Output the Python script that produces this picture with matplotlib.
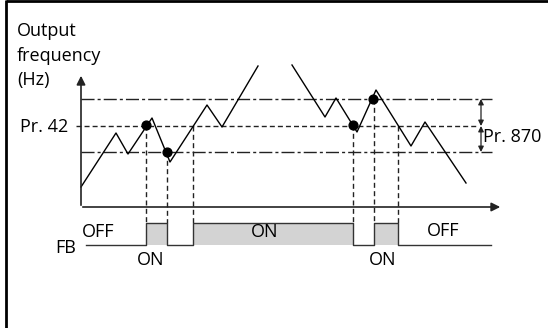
import matplotlib
matplotlib.use("Agg")
from matplotlib import pyplot as plt

plt.rcParams['font.family'] = ['Open Sans', 'DejaVu Sans']

# output frequency curve (x = time, y = frequency, in picture units, y grows downward)
seg1_t = [81, 116, 128, 152, 170, 207, 222, 258]
seg1_f = [187, 133, 154, 118, 162, 105, 127, 66]
seg2_t = [292, 325, 336, 357, 376, 411, 425, 466]
seg2_f = [65, 117, 98, 132, 90, 146, 122, 183]

# detection points
dot_t = [146, 167, 353, 373]
dot_f = [125, 152, 125, 99]

# levels
upper_lvl = 99
pr42_lvl = 126
lower_lvl = 152

# FB signal switching times and states (1 = ON)
fb_t = [86, 146, 167, 193, 353, 374, 398, 491]
fb_state = [0, 1, 0, 1, 0, 1, 0]
fb_low = 245
fb_high = 223

# where each vertical dashed guide starts
guide_top = [125, 152, 126, 125, 99, 126]

fig = plt.figure(figsize=(5.48, 3.28), dpi=100)
ax = fig.add_axes([0, 0, 1, 1])
ax.set_xlim(0, 548)
ax.set_ylim(328, 0)
ax.axis('off')

# frame (top + left only)
ax.plot([6, 548], [1, 1], color='black', lw=2.0, solid_capstyle='butt')
ax.plot([6, 6], [0, 328], color='black', lw=2.0, solid_capstyle='butt')

# axes with arrows
ax.annotate('', xy=(81, 73), xytext=(81, 208),
            arrowprops=dict(arrowstyle='-|>', color='#222222', lw=1.2, mutation_scale=13))
ax.annotate('', xy=(503, 207), xytext=(80, 207),
            arrowprops=dict(arrowstyle='-|>', color='#222222', lw=1.2, mutation_scale=13))

# level lines
dashdot = (9.4, 2.2, 2.2, 2.2)
ax.plot([81, 492], [upper_lvl, upper_lvl], color='#222222', lw=1.0, dashes=dashdot)
ax.plot([76, 476], [pr42_lvl, pr42_lvl], color='#222222', lw=1.0, dashes=(3.6, 2.2))
ax.plot([81, 492], [lower_lvl, lower_lvl], color='#222222', lw=1.0, dashes=dashdot)

# vertical dashed lines at switching instants
for t, top in zip(fb_t[1:-1], guide_top):
    ax.plot([t, t], [top, fb_high], color='#222222', lw=1.0, dashes=(3.6, 2.4))

# frequency curve
ax.plot(seg1_t, seg1_f, color='black', lw=1.0)
ax.plot(seg2_t, seg2_f, color='black', lw=1.0)
ax.scatter(dot_t, dot_f, s=40, color='black', zorder=5)

# Pr. 870 double arrows
for a, b in [(upper_lvl, pr42_lvl), (pr42_lvl, lower_lvl)]:
    ax.annotate('', xy=(481, a), xytext=(481, b),
                arrowprops=dict(arrowstyle='<|-|>', color='#222222', lw=0.9,
                                mutation_scale=8, shrinkA=0, shrinkB=0))

# FB signal
xs, ys = [], []
for i, s in enumerate(fb_state):
    lvl = fb_high if s else fb_low
    xs += [fb_t[i], fb_t[i + 1]]
    ys += [lvl, lvl]
    if s:
        ax.fill_between([fb_t[i], fb_t[i + 1]], fb_low, fb_high, color='#d3d3d3', lw=0)
ax.plot(xs, ys, color='#333333', lw=1.0)

# texts
fs = 13
ax.text(17, 31, 'Output', fontsize=fs, va='center', ha='left')
ax.text(17, 56, 'frequency', fontsize=fs, va='center', ha='left')
ax.text(17, 80, '(Hz)', fontsize=fs, va='center', ha='left')
ax.text(68, 127, 'Pr. 42', fontsize=fs, va='center', ha='right')
ax.text(483, 137, 'Pr. 870', fontsize=fs, va='center', ha='left')
ax.text(76, 248, 'FB', fontsize=fs, va='center', ha='right')
ax.text(82, 232, 'OFF', fontsize=fs, va='center', ha='left')
ax.text(151, 260, 'ON', fontsize=fs, va='center', ha='center')
ax.text(265, 232, 'ON', fontsize=fs, va='center', ha='center')
ax.text(383, 260, 'ON', fontsize=fs, va='center', ha='center')
ax.text(443, 231, 'OFF', fontsize=fs, va='center', ha='center')

fig.savefig('out.png', dpi=100)
